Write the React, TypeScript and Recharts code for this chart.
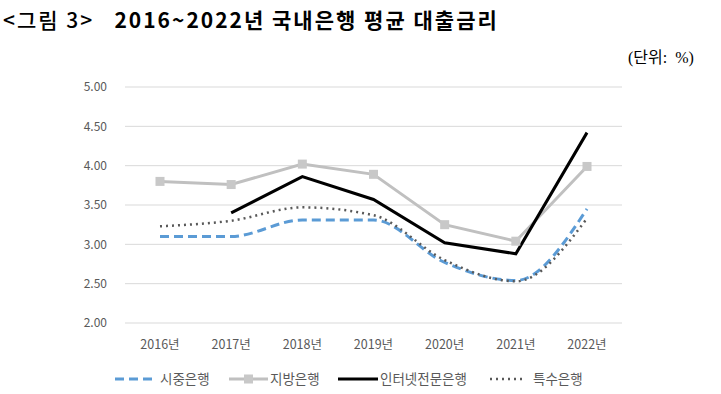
import { LineChart, Line, XAxis, YAxis, CartesianGrid } from "recharts";

const years = ["2016년", "2017년", "2018년", "2019년", "2020년", "2021년", "2022년"];
const commercial = [3.1, 3.1, 3.31, 3.31, 2.77, 2.54, 3.45];
const regional = [3.8, 3.76, 4.02, 3.89, 3.25, 3.04, 3.99];
const internet = [null, 3.4, 3.86, 3.57, 3.02, 2.88, 4.42];
const special = [3.23, 3.3, 3.47, 3.37, 2.8, 2.53, 3.33];
const yTicks = [2, 2.5, 3, 3.5, 4, 4.5, 5];

const data = years.map((year, i) => ({
  year,
  commercial: commercial[i],
  regional: regional[i],
  internet: internet[i],
  special: special[i],
}));

const font = "'Noto Sans CJK KR', 'Noto Sans', sans-serif";

const SquareDot = (props: any) => {
  const { cx, cy } = props;
  if (cx == null || cy == null) return null;
  return <rect x={cx - 4.5} y={cy - 4.5} width={9} height={9} fill="#c8c8c8" />;
};

function ChartLegend() {
  const text = { fontSize: 13.5, fill: "#595959", fontFamily: font };
  return (
    <svg width={721} height={20} style={{ position: "absolute", left: 0, top: 369 }}>
      <line x1={115} x2={152} y1={10} y2={10} stroke="#5b9bd5" strokeWidth={3} strokeDasharray="9 5" />
      <text x={160} y={15} style={text}>시중은행</text>
      <line x1={229} x2={268} y1={10} y2={10} stroke="#c0c0c0" strokeWidth={3} />
      <rect x={244} y={5.5} width={9} height={9} fill="#c8c8c8" />
      <text x={270} y={15} style={text}>지방은행</text>
      <line x1={338} x2={378} y1={10} y2={10} stroke="#000" strokeWidth={3} />
      <text x={380} y={15} style={text}>인터넷전문은행</text>
      <line x1={490} x2={525} y1={10} y2={10} stroke="#595959" strokeWidth={2.5} strokeDasharray="2 4" />
      <text x={533} y={15} style={text}>특수은행</text>
    </svg>
  );
}

export default function App() {
  return (
    <div style={{ position: "absolute", left: 0, top: 0, width: 721, height: 394, background: "#fff" }}>
      <div
        style={{
          position: "absolute",
          left: 3,
          top: 5,
          fontFamily: font,
          fontSize: 21,
          lineHeight: "28px",
          letterSpacing: 2,
          color: "#000",
          whiteSpace: "pre",
        }}
      >
        <span style={{ fontWeight: 500 }}>{"<그림 3>   "}</span>
        <span style={{ fontWeight: 700 }}>2016~2022년 국내은행 평균 대출금리</span>
      </div>
      <div
        style={{
          position: "absolute",
          left: 628,
          top: 47,
          fontFamily: "'Liberation Serif', 'Noto Sans CJK KR', serif",
          fontSize: 16,
          lineHeight: "22px",
          color: "#000",
          whiteSpace: "pre",
        }}
      >
        (단위:  %)
      </div>
      <LineChart width={721} height={394} data={data} margin={{ top: 87, right: 99, bottom: 41, left: 65 }}>
        <CartesianGrid vertical={false} stroke="#d9d9d9" />
        <XAxis
          dataKey="year"
          height={30}
          axisLine={false}
          tickLine={false}
          tickSize={0}
          tickMargin={17}
          padding={{ left: 35, right: 35 }}
          tick={{ fontSize: 12.5, fill: "#595959", fontFamily: font }}
        />
        <YAxis
          domain={[2, 5]}
          ticks={yTicks}
          width={60}
          axisLine={false}
          tickLine={false}
          tickSize={0}
          tickMargin={18}
          tickFormatter={(v: number) => v.toFixed(2)}
          tick={{ fontSize: 12, fill: "#595959", fontFamily: font }}
        />
        <Line
          type="monotone"
          dataKey="commercial"
          stroke="#5b9bd5"
          strokeWidth={3}
          strokeDasharray="9 5"
          dot={false}
          isAnimationActive={false}
        />
        <Line
          type="linear"
          dataKey="regional"
          stroke="#c0c0c0"
          strokeWidth={3}
          dot={<SquareDot />}
          isAnimationActive={false}
        />
        <Line
          type="linear"
          dataKey="internet"
          stroke="#000"
          strokeWidth={3}
          dot={false}
          isAnimationActive={false}
        />
        <Line
          type="monotone"
          dataKey="special"
          stroke="#595959"
          strokeWidth={2.5}
          strokeDasharray="2 4"
          dot={false}
          isAnimationActive={false}
        />
      </LineChart>
      <ChartLegend />
    </div>
  );
}
